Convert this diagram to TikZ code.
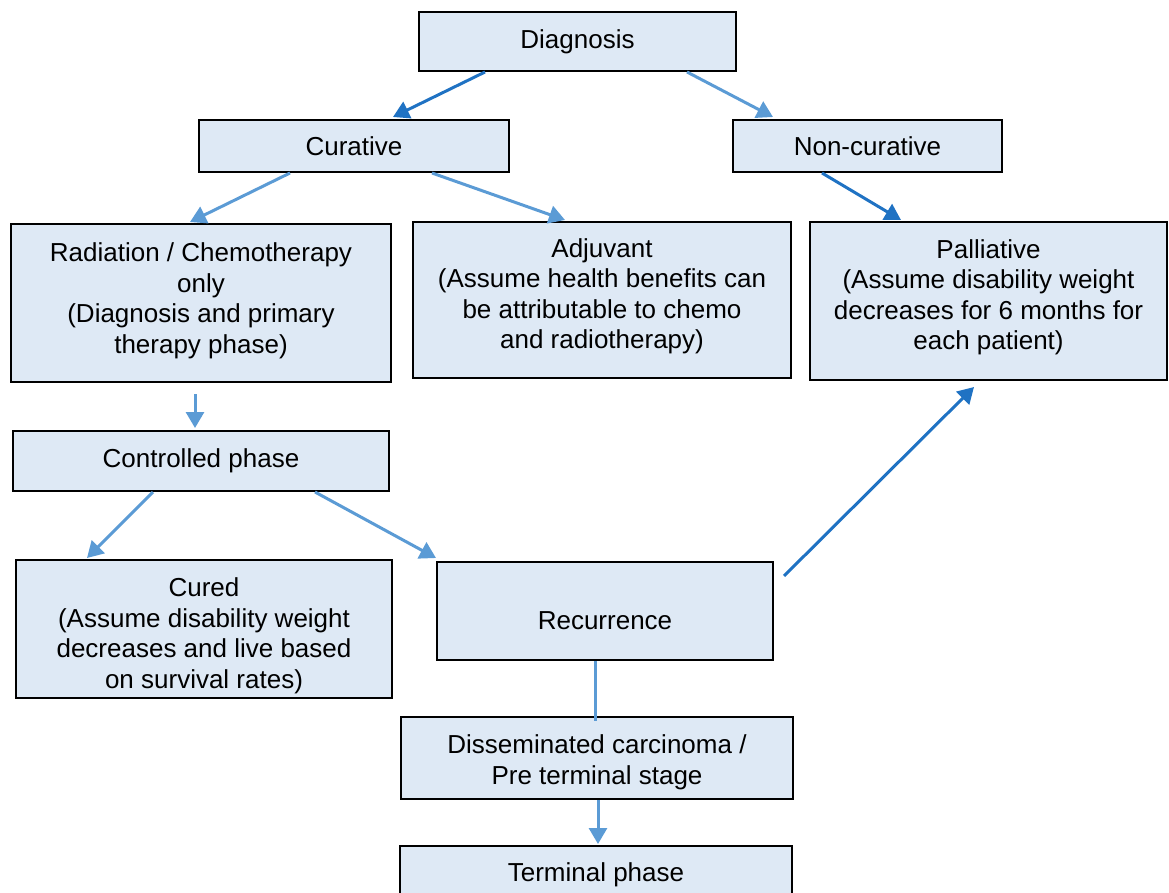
\documentclass[tikz,border=0pt]{standalone}
\usepackage{fontspec}
\setmainfont{Liberation Sans}
\usetikzlibrary{arrows.meta}
\definecolor{boxfill}{HTML}{DEE9F5}
\definecolor{darkline}{HTML}{1F72C3}
\definecolor{lightline}{HTML}{5B9BD5}
\newcommand{\topstrut}[1]{\rule{0pt}{#1}}
\newcommand{\botstrut}[1]{\rule[-#1]{0pt}{0pt}}
\tikzstyle{stage}=[shape = rectangle, draw = black, line width = 2pt, fill = boxfill, inner sep = 0pt, align = center, font = \fontsize{26}{30.5}\selectfont]
\tikzstyle{darkArrow}=[draw = darkline, line width = 3pt, -{Triangle[length=16pt,width=18pt]}]
\tikzstyle{lightArrow}=[draw = lightline, line width = 3pt, -{Triangle[length=16pt,width=18pt]}]

\begin{document}
\begin{tikzpicture}[x = 1pt, y = -1pt]
\useasboundingbox (0,0) rectangle (1169,893);
\clip (0,0) rectangle (1169,893);
\node[stage, minimum width = 317pt, minimum height = 59pt] (v0) at (577.5,41.5) {Diagnosis};
\node[stage, minimum width = 310pt, minimum height = 52pt] (v1) at (354,146) {Curative};
\node[stage, minimum width = 269pt, minimum height = 52pt] (v2) at (867.5,146) {Non-curative};
\node[stage, minimum width = 380pt, minimum height = 158pt] (v3) at (201,303) {Radiation / Chemotherapy\\only\\(Diagnosis and primary\\therapy phase)\botstrut{9.5pt}};
\node[stage, minimum width = 378pt, minimum height = 156pt] (v4) at (602,300) {Adjuvant\\(Assume health benefits can\\be attributable to chemo\\and radiotherapy)\botstrut{12.5pt}};
\node[stage, minimum width = 357pt, minimum height = 158pt] (v5) at (988.5,301) {Palliative\\(Assume disability weight\\decreases for 6 months for\\each patient)\botstrut{12.5pt}};
\node[stage, minimum width = 376pt, minimum height = 60pt] (v6) at (201,461) {Controlled phase};
\node[stage, minimum width = 376pt, minimum height = 138pt] (v7) at (204,629) {\topstrut{32pt}Cured\\(Assume disability weight\\decreases and live based\\on survival rates)};
\node[stage, minimum width = 336pt, minimum height = 98pt] (v8) at (605,611) {\topstrut{37pt}Recurrence};
\node[stage, minimum width = 392pt, minimum height = 82pt] (v9) at (597,758) {\topstrut{27pt}Disseminated carcinoma /\\Pre terminal stage};
\node[stage, minimum width = 392pt, minimum height = 57.5pt, text height = 19pt, text depth = 5.5pt] (v10) at (596,874.75) {Terminal phase};
\draw[darkArrow] ([xshift=-92.5pt]v0.south) -- ([xshift=39pt,yshift=2pt]v1.north);
\draw[lightArrow] ([xshift=109.5pt]v0.south) -- ([xshift=-94.5pt,yshift=2pt]v2.north);
\draw[lightArrow] ([xshift=-64pt]v1.south) -- ([xshift=-11pt,yshift=1pt]v3.north);
\draw[lightArrow] ([xshift=78pt]v1.south) -- ([xshift=-37pt,yshift=1pt]v4.north);
\draw[darkArrow] ([xshift=-45.5pt]v2.south) -- ([xshift=-87.5pt,yshift=1pt]v5.north);
\draw[lightArrow] ([xshift=-6pt,yshift=-11pt]v3.south) -- ([xshift=-6pt,yshift=2pt]v6.north);
\draw[lightArrow] ([xshift=-48pt]v6.south) -- ([xshift=-117pt,yshift=1pt]v7.north);
\draw[lightArrow] ([xshift=114pt]v6.south) -- ([yshift=3pt]v8.north west);
\draw[darkArrow] ([xshift=10pt,yshift=35pt]v8.east) -- ([xshift=-14.5pt,yshift=-6pt]v5.south);
\draw[draw = lightline, line width = 3pt] ([xshift=-10pt]v8.south) -- ([xshift=-2pt,yshift=-5pt]v9.north);
\draw[lightArrow] ([xshift=1pt]v9.south) -- ([xshift=2pt,yshift=1pt]v10.north);
\end{tikzpicture}
\end{document}
